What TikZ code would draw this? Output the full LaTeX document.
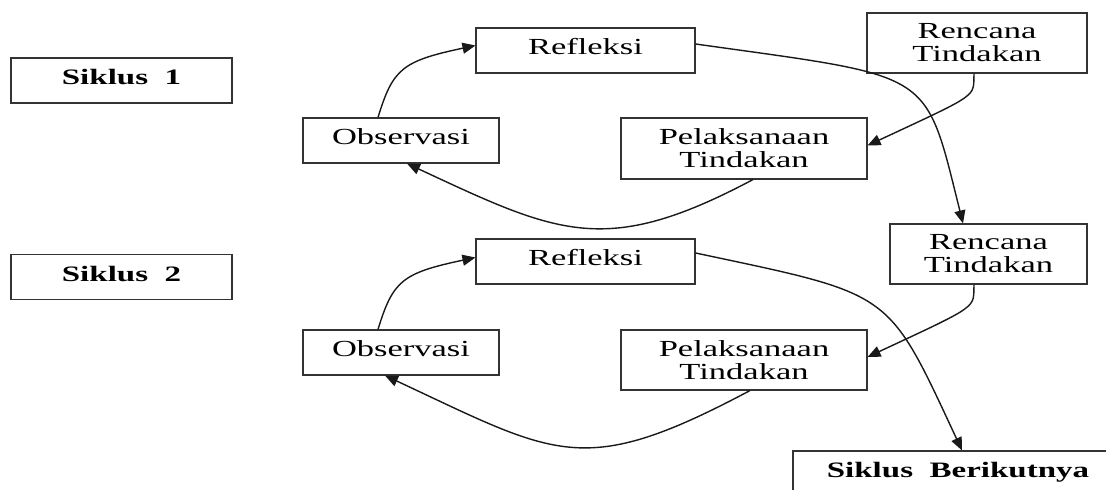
\documentclass[tikz,border=0pt]{standalone}
\usepackage{fontspec}
\setmainfont{Liberation Serif}[FakeStretch=1.5]
\usetikzlibrary{arrows.meta}

\begin{document}
\begin{tikzpicture}[x=1pt,y=1pt]
  \clip (0,0) rectangle (1106,490);
  \begin{scope}[
    every node/.style={draw=black!80,line width=1.1pt,inner sep=0pt,
      font=\fontsize{23}{23}\selectfont},
    single/.style={text height=16pt,text depth=7pt,minimum height=45pt},
    double/.style={align=center,minimum height=61pt},
    head/.style={single,font=\fontsize{22}{22}\selectfont\bfseries},
    ]
    % siklus 1
    \node[head,minimum width=221pt] (s1) at (121.5,409.5) {Siklus\ \ 1};
    \node[single,minimum width=219pt] (ref1) at (585.5,439.5) {Refleksi};
    \node[double,minimum width=220pt,minimum height=60pt] (ren1) at (977,447) {Rencana\\Tindakan};
    \node[single,minimum width=196pt] (obs1) at (401,349.5) {Observasi};
    \node[double,minimum width=246pt] (pel1) at (744,341.5) {Pelaksanaan\\Tindakan};
    % siklus 2
    \node[head,minimum width=221pt] (s2) at (121.5,213) {Siklus\ \ 2};
    \node[single,minimum width=219pt] (ref2) at (585.5,228.5) {Refleksi};
    \node[double,minimum width=197pt,minimum height=60pt] (ren2) at (988.5,236) {Rencana\\Tindakan};
    \node[single,minimum width=196pt] (obs2) at (401,137.5) {Observasi};
    \node[double,minimum width=246pt,minimum height=60pt] (pel2) at (744,130) {Pelaksanaan\\Tindakan};
    \node[head,minimum width=330pt] (next) at (958,16.5) {Siklus\ \ Berikutnya};
  \end{scope}
  \begin{scope}[
    every path/.style={draw=black!90,line width=1.4pt,>={Triangle[length=13pt,width=11pt]}},
    rise/.style={out=73,in=192,out distance=51pt,in distance=75pt},
    sweep/.style={out=208,in=-25,out distance=167pt,in distance=167pt},
    drop/.style={out=-92,in=25,out distance=24pt,in distance=125pt},
    leap/.style={out=-8,in=104,out distance=242pt,in distance=160pt},
    ]
    \path[->] ([xshift=-23pt]obs1.north) to[rise] ([yshift=5pt]ref1.west);
    \path[->] ([xshift=9pt]pel1.south) to[sweep] ([xshift=6pt]obs1.south);
    \path[->] ([xshift=-3pt]ren1.south) to[drop] ([yshift=3pt]pel1.east);
    \path[->] ([yshift=6.5pt]ref1.east) to[leap] ([xshift=-25.5pt]ren2.north);
    \path[->] ([xshift=-23pt]obs2.north) to[rise] ([yshift=4pt]ref2.west);
    \path[->] ([xshift=-14.5pt]ren2.south) to[drop] ([yshift=3pt]pel2.east);
    \path[->] ([xshift=6pt]pel2.south) to[sweep,out distance=190pt,in distance=190pt] ([xshift=-16pt]obs2.south);
    \path[->] ([yshift=8.5pt]ref2.east) to[leap,out=-12,in=115,out distance=203pt,in distance=178pt] ([xshift=4pt]next.north);
  \end{scope}
\end{tikzpicture}
\end{document}
